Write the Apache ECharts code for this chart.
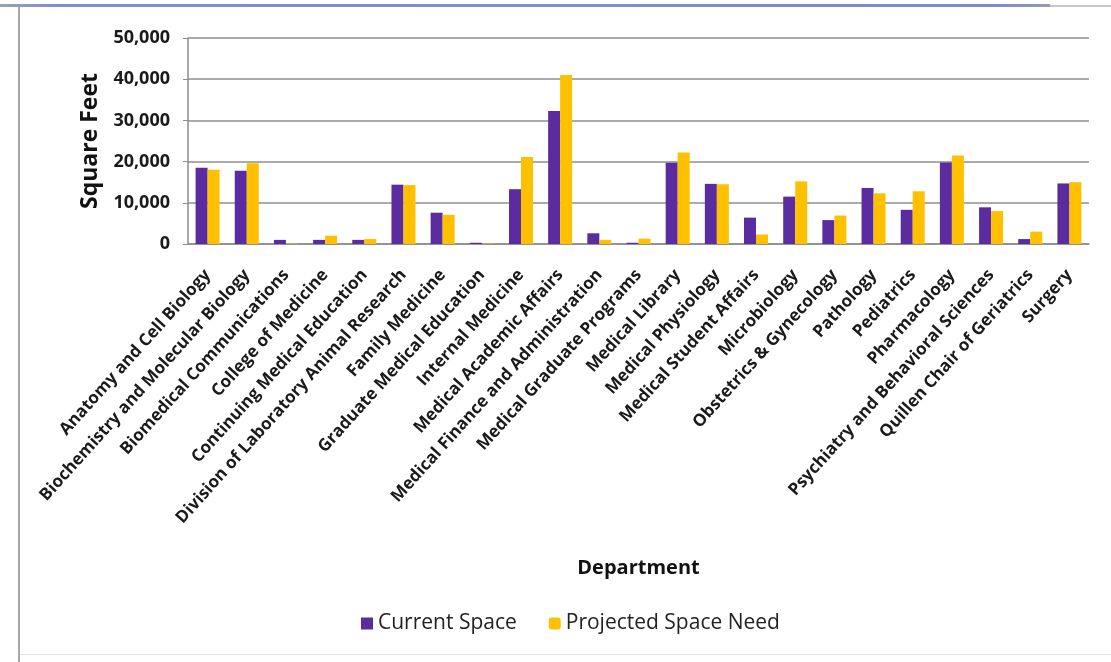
<!DOCTYPE html>
<html>
<head>
<meta charset="utf-8">
<title>Department Space</title>
<script src="https://cdn.jsdelivr.net/npm/echarts@6/dist/echarts.min.js"></script>
<style>
  html, body { margin: 0; padding: 0; background: #fff; }
  #chart { width: 1111px; height: 662px; }
</style>
</head>
<body>
<div id="chart"></div>
<script>
// Departments along the x axis
const departments = [
  'Anatomy and Cell Biology',
  'Biochemistry and Molecular Biology',
  'Biomedical Communications',
  'College of Medicine',
  'Continuing Medical Education',
  'Division of Laboratory Animal Research',
  'Family Medicine',
  'Graduate Medical Education',
  'Internal Medicine',
  'Medical Academic Affairs',
  'Medical Finance and Administration',
  'Medical Graduate Programs',
  'Medical Library',
  'Medical Physiology',
  'Medical Student Affairs',
  'Microbiology',
  'Obstetrics & Gynecology',
  'Pathology',
  'Pediatrics',
  'Pharmacology',
  'Psychiatry and Behavioral Sciences',
  'Quillen Chair of Geriatrics',
  'Surgery'
];

// Square feet per department
const currentSpace = [
  18500, 17800, 1000, 1000, 1000, 14400, 7600, 300, 13300, 32300,
  2600, 300, 19700, 14600, 6400, 11500, 5800, 13600, 8300, 19800,
  8900, 1200, 14700
];
const projectedSpaceNeed = [
  18000, 19600, 100, 2000, 1200, 14300, 7100, 100, 21100, 41000,
  1000, 1300, 22200, 14500, 2300, 15200, 6900, 12300, 12800, 21500,
  8000, 3000, 15000
];

// Value axis ticks
const yTicks = { min: 0, max: 50000, interval: 10000 };

const chart = echarts.init(document.getElementById('chart'));

const fontFamily = '"Open Sans", "Noto Sans", sans-serif';

chart.setOption({
  backgroundColor: '#ffffff',
  animation: false,
  textStyle: { fontFamily: fontFamily },
  graphic: [
    // outer frame: top rule, left rule, bottom rule
    {
      type: 'rect',
      shape: { x: 0, y: 4, width: 1050, height: 3 },
      style: {
        fill: new echarts.graphic.LinearGradient(0, 0, 1, 0, [
          { offset: 0, color: '#9aa0b8' },
          { offset: 0.05, color: '#7f8fcf' },
          { offset: 0.95, color: '#7b8bd0' },
          { offset: 1, color: '#9a9ab0' }
        ])
      },
      silent: true
    },
    {
      type: 'rect',
      shape: { x: 1050, y: 5, width: 61, height: 2 },
      style: { fill: '#c8c8c8' },
      silent: true
    },
    {
      type: 'rect',
      shape: { x: 18, y: 7, width: 2, height: 655 },
      style: { fill: '#a8a8a8' },
      silent: true
    },
    {
      type: 'rect',
      shape: { x: 20, y: 654, width: 1091, height: 1 },
      style: { fill: '#e4e4e4' },
      silent: true
    }
  ],
  legend: {
    left: 356,
    top: 608,
    itemWidth: 12,
    itemHeight: 12,
    itemGap: 32,
    textStyle: { fontSize: 21, color: '#222', fontFamily: fontFamily },
    data: [
      { name: 'Current Space', icon: 'rect' },
      { name: 'Projected Space Need', icon: 'roundRect' }
    ]
  },
  grid: {
    left: 188,
    right: 22,
    top: 38,
    bottom: 418
  },
  xAxis: {
    type: 'category',
    data: departments,
    name: 'Department',
    nameLocation: 'middle',
    nameGap: 314,
    nameTextStyle: { fontSize: 20, fontWeight: 'bold', color: '#111' },
    axisLine: { lineStyle: { color: '#8c8c8c', width: 1.5 } },
    axisTick: { show: false },
    axisLabel: {
      interval: 0,
      rotate: 48,
      margin: 28,
      fontSize: 17,
      fontWeight: 'bold',
      color: '#1a1a1a'
    }
  },
  yAxis: {
    type: 'value',
    min: yTicks.min,
    max: yTicks.max,
    interval: yTicks.interval,
    name: 'Square Feet',
    nameLocation: 'middle',
    nameGap: 86,
    nameTextStyle: { fontSize: 23, fontWeight: 'bold', color: '#111' },
    axisLine: { show: true, lineStyle: { color: '#8c8c8c', width: 1.5 } },
    axisTick: { show: true, inside: false, length: 5, lineStyle: { color: '#8c8c8c' } },
    axisLabel: {
      fontSize: 18,
      fontWeight: 'bold',
      color: '#1a1a1a',
      margin: 18,
      formatter: v => v.toLocaleString('en-US')
    },
    splitLine: { lineStyle: { color: '#8f8f8f', width: 1.5 } }
  },
  series: [
    {
      name: 'Current Space',
      type: 'bar',
      data: currentSpace,
      barWidth: 12,
      barGap: '0%',
      itemStyle: { color: '#5b2ca0' }
    },
    {
      name: 'Projected Space Need',
      type: 'bar',
      data: projectedSpaceNeed,
      barWidth: 12,
      itemStyle: { color: '#ffc000' }
    }
  ]
});
</script>
</body>
</html>
